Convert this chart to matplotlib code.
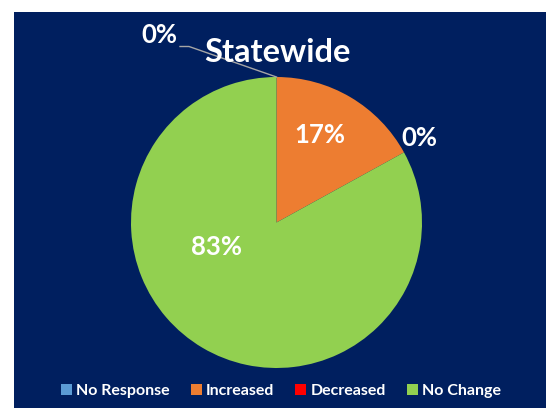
import matplotlib
matplotlib.use("Agg")
import matplotlib.pyplot as plt
from matplotlib.patches import Rectangle, Patch
import numpy as np

plt.rcParams['font.family'] = ['Lato', 'DejaVu Sans']

# Survey result shares (percent)
categories = ["No Response", "Increased", "Decreased", "No Change"]
shares = [0, 17, 0, 83]
colors = ["#5B9BD5", "#ED7D31", "#FF0000", "#92D050"]
title = "Statewide"

W, H = 546, 408
NAVY = "#001F5F"

fig = plt.figure(figsize=(W / 100, H / 100), dpi=100)
ax = fig.add_axes([0, 0, 1, 1])
ax.set_xlim(0, W)
ax.set_ylim(0, H)
ax.set_aspect("equal")
ax.axis("off")

# dark panel behind the chart
ax.add_patch(Rectangle((14, 0), W - 14, H - 11.5, facecolor=NAVY, edgecolor="none", zorder=0))

cx, cy, r = 276.5, H - 222.5, 145.5
wedges, _ = ax.pie(shares, colors=colors, startangle=90, counterclock=False,
                   center=(cx, cy), radius=r, frame=True,
                   wedgeprops=dict(linewidth=0))
ax.set_xlim(0, W)
ax.set_ylim(0, H)
ax.axis("off")

lab = dict(color="white", fontsize=18.5, fontweight="bold", ha="center", va="center")

# angle of each slice boundary, clockwise from 12 o'clock
edges = 90 - 360 * np.cumsum([0] + shares) / sum(shares)

# inside labels
ax.text(319.5, H - 135, f"{shares[1]}%", **lab)
ax.text(217, H - 247, f"{shares[3]}%", **lab)

# zero slice on the right, label just outside the rim
a = np.deg2rad(edges[2] + 2)
ax.text(cx + 1.14 * r * np.cos(a), cy + 1.14 * r * np.sin(a), f"{shares[2]}%", **lab)

# zero slice at the top, label pulled out with a leader line
a0 = np.deg2rad(edges[0])
ax.plot([cx + r * np.cos(a0), 189, 180], [cy + r * np.sin(a0), H - 46.5, H - 46.5],
        color="#A6A6A6", lw=1, zorder=3)
ax.text(159, H - 35, f"{shares[0]}%", **lab)

ax.text(cx + 1, H - 52, title, color="white", fontsize=23.5, fontweight="bold",
        ha="center", va="center", zorder=4)

handles = [Patch(facecolor=c, edgecolor="none") for c in colors]
leg = fig.legend(handles, categories, loc="center", bbox_to_anchor=(281 / W, 1 - 391 / H),
                 ncol=4, frameon=False, handlelength=0.7, handleheight=0.7,
                 handletextpad=0.25, columnspacing=1.3,
                 prop=dict(size=11.5, weight="bold"))
for t in leg.get_texts():
    t.set_color("white")

fig.savefig("out.png", dpi=100, facecolor="white")
